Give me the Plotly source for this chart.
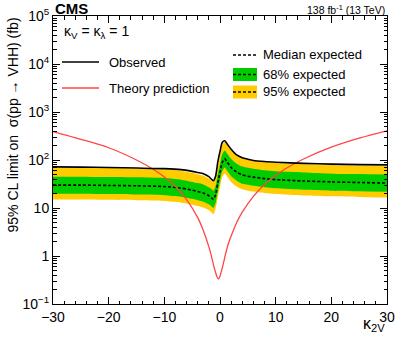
import plotly.graph_objects as go

# kappa_2V scan points
k2v = [-30, -25, -20, -15, -10, -7, -5, -4, -3, -2, -1.5, -1.2, -0.8, -0.4, 0,
       0.4, 0.85, 1.3, 2, 3, 4, 5, 6, 8, 10, 15, 20, 25, 30]
observed = [72, 71, 70, 68, 66, 63, 58, 55, 52, 45, 39.5, 37, 46, 90, 150,
            232, 252, 215, 168, 128, 112, 104, 98, 93, 90, 85, 82, 80, 79]
median = [30, 30, 29.5, 29, 28, 26, 23.5, 22, 20.5, 18, 16.2, 15.2, 19, 33, 55,
          88, 106, 90, 70, 56, 49, 46, 44, 41, 39, 36.5, 35, 34, 33]
band68_hi = [45, 45, 44, 43.5, 42, 39, 35, 33, 31, 27, 24.5, 23, 28.5, 50, 82,
             132, 158, 135, 105, 84, 73, 69, 66, 61, 58, 55, 52, 51, 50]
band68_lo = [19.8, 19.8, 19.5, 19.1, 18.5, 17.2, 15.5, 14.5, 13.5, 11.9, 10.7, 10, 12.5, 21.8, 36,
             58, 70, 59, 46, 37, 32, 30.4, 29, 27, 25.7, 24, 23, 22.4, 21.8]
band95_hi = [69, 69, 68, 66, 64, 60, 54, 50.5, 47, 41, 37, 35, 44, 76, 126,
             202, 240, 206, 160, 125, 110, 102, 96, 91, 87, 82, 79, 77, 76]
band95_lo = [15, 15, 14.8, 14.5, 14, 13, 11.7, 11, 10.2, 9, 8.1, 7.4, 9.5, 16.5, 27.5,
             44, 53, 45, 35, 28, 24.5, 23, 22, 20.5, 19.5, 18.2, 17.5, 17, 16.5]

# theory prediction
th_k2v = [-30, -25, -20, -15, -12, -10, -8, -6, -4, -3, -2, -1.5, -1, -0.5, -0.25, 0,
          0.5, 1, 1.5, 2, 3, 4, 6, 8, 10, 12, 15, 20, 25, 30]
theory = [392, 270, 180, 100, 64, 44, 28, 15, 6.3, 3.4, 1.55, 0.95, 0.55, 0.36, 0.33, 0.38,
          0.62, 1.1, 1.8, 2.6, 5.0, 8.2, 17.5, 31, 48, 68, 105, 185, 285, 405]

ytick_vals = [0.1, 1, 10, 100, 1000, 10000, 100000]
ytick_text = ["10<sup>\u22121</sup>", "1", "10", "10<sup>2</sup>", "10<sup>3</sup>",
              "10<sup>4</sup>", "10<sup>5</sup>"]

GREEN = "#00CC00"
YELLOW = "#FFCC00"
RED = "#FF4545"
FONT = "Liberation Sans, Arial, sans-serif"

W, H = 399, 338
L, R, T, B = 53, 12, 16, 34


def px(x):
    return (x - L) / (W - L - R)


def py(y):
    return (H - B - y) / (H - T - B)


fig = go.Figure()
spline = dict(shape="spline", smoothing=0.7)

fig.add_trace(go.Scatter(x=k2v, y=band95_lo, mode="lines", line=dict(width=0, **spline),
                         showlegend=False, hoverinfo="skip"))
fig.add_trace(go.Scatter(x=k2v, y=band95_hi, mode="lines", line=dict(width=0, **spline),
                         fill="tonexty", fillcolor=YELLOW, showlegend=False))
fig.add_trace(go.Scatter(x=k2v, y=band68_lo, mode="lines", line=dict(width=0, **spline),
                         showlegend=False, hoverinfo="skip"))
fig.add_trace(go.Scatter(x=k2v, y=band68_hi, mode="lines", line=dict(width=0, **spline),
                         fill="tonexty", fillcolor=GREEN, showlegend=False))
fig.add_trace(go.Scatter(x=k2v, y=median, mode="lines",
                         line=dict(color="black", width=1.6, dash="3px,2px", **spline),
                         showlegend=False))
fig.add_trace(go.Scatter(x=th_k2v, y=theory, mode="lines",
                         line=dict(color=RED, width=1.3, **spline), showlegend=False))
fig.add_trace(go.Scatter(x=k2v, y=observed, mode="lines",
                         line=dict(color="black", width=1.6, **spline), showlegend=False))

# hand-made legend (two columns like the original)
shapes = []
annots = []
lx0, lx1 = px(62), px(99)
shapes.append(dict(type="line", xref="paper", yref="paper", x0=lx0, x1=lx1, y0=py(62), y1=py(62),
                   line=dict(color="black", width=1.6)))
shapes.append(dict(type="line", xref="paper", yref="paper", x0=lx0, x1=lx1, y0=py(88), y1=py(88),
                   line=dict(color=RED, width=1.3)))
for txt, yy in [("Observed", 62), ("Theory prediction", 88)]:
    annots.append(dict(text=txt, x=px(107), y=py(yy), xref="paper", yref="paper",
                       xanchor="left", yanchor="middle", showarrow=False,
                       font=dict(size=13, color="black", family=FONT)))

rx0, rx1 = px(233), px(257)
for col, yc in [(GREEN, 74.5), (YELLOW, 92)]:
    shapes.append(dict(type="rect", xref="paper", yref="paper", x0=rx0, x1=rx1,
                       y0=py(yc + 6.5), y1=py(yc - 6.5), fillcolor=col, line=dict(width=0)))
for yy in [55, 74.5, 92]:
    shapes.append(dict(type="line", xref="paper", yref="paper", x0=rx0, x1=rx1, y0=py(yy), y1=py(yy),
                       line=dict(color="black", width=1.3, dash="3px,2px")))
for txt, yy in [("Median expected", 55), ("68% expected", 74.5), ("95% expected", 92)]:
    annots.append(dict(text=txt, x=px(261), y=py(yy), xref="paper", yref="paper",
                       xanchor="left", yanchor="middle", showarrow=False,
                       font=dict(size=13, color="black", family=FONT)))

annots += [
    dict(text="<b>CMS</b>", x=0, y=1, xref="paper", yref="paper", xanchor="left", yanchor="bottom",
         showarrow=False, font=dict(size=15, color="black", family=FONT), yshift=-3),
    dict(text="138 fb<sup>-1</sup> (13 TeV)", x=1, y=1, xref="paper", yref="paper",
         xanchor="right", yanchor="bottom", showarrow=False,
         font=dict(size=10.5, color="black", family=FONT), yshift=-2),
    dict(text="\u03ba<sub>V</sub> = \u03ba<sub>\u03bb</sub> = 1", x=px(62), y=py(32),
         xref="paper", yref="paper", xanchor="left", yanchor="middle", showarrow=False,
         font=dict(size=14, color="black", family=FONT)),
    dict(text="\u03ba<sub>2V</sub>", x=1, y=py(324), xref="paper", yref="paper",
         xanchor="right", yanchor="middle", showarrow=False,
         font=dict(size=16, color="black", family=FONT)),
    dict(text="95% CL limit on  \u03c3(pp \u2192 VHH) (fb)", x=px(12), y=1, xref="paper", yref="paper",
         xanchor="center", yanchor="top", textangle=-90, showarrow=False,
         font=dict(size=14, color="black", family=FONT)),
]

fig.update_layout(
    width=W, height=H,
    margin=dict(l=L, r=R, t=T, b=B, autoexpand=False),
    paper_bgcolor="white", plot_bgcolor="white",
    font=dict(family=FONT, color="black"),
    shapes=shapes, annotations=annots,
    showlegend=False,
)
fig.update_xaxes(
    range=[-30, 30], tickvals=[-30, -20, -10, 0, 10, 20, 30],
    ticktext=["\u221230", "\u221220", "\u221210", "0", "10", "20", "30"],
    ticks="inside", ticklen=7, tickcolor="black", showline=True, linecolor="black", linewidth=1,
    mirror="allticks", showgrid=False, zeroline=False, tickfont=dict(size=14), automargin=False,
    minor=dict(ticks="inside", dtick=2, ticklen=3.5, tickcolor="black", showgrid=False),
)
fig.update_yaxes(
    type="log", range=[-1, 5], tickvals=ytick_vals, ticktext=ytick_text,
    ticks="inside", ticklen=7, tickcolor="black", showline=True, linecolor="black", linewidth=1,
    mirror="allticks", showgrid=False, zeroline=False, tickfont=dict(size=14), automargin=False,
    minor=dict(ticks="inside", dtick="D1", ticklen=3.5, tickcolor="black", showgrid=False),
)

# the page body has a default 8px margin; drop it so the figure fills the window
fig.write_html("out.html", config={"displayModeBar": False},
               post_script="document.body.style.margin='0';")
